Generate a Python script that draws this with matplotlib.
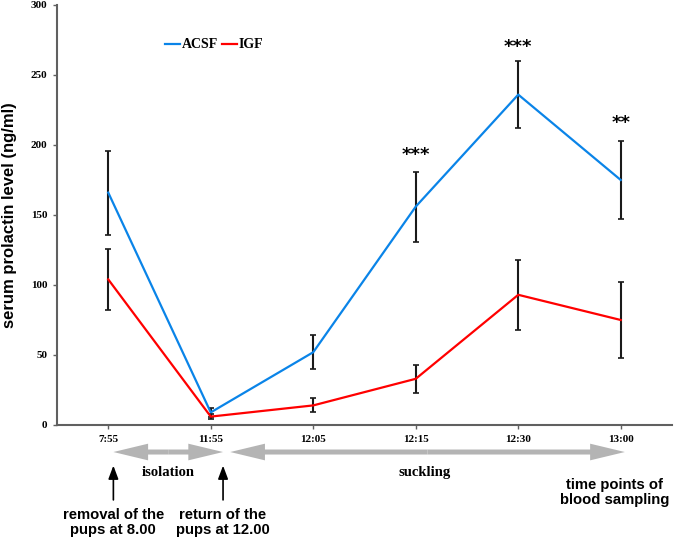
import numpy as np
import matplotlib
matplotlib.use('Agg')
import matplotlib.pyplot as plt

times = ['7:55', '11:55', '12:05', '12:15', '12:30', '13:00']
acsf = [166, 9, 52, 156, 236, 175]
acsf_err = [30, 3, 12, 25, 24, 28]
igf = [104, 6, 14, 33, 93, 75]
igf_err = [22, 2, 5, 10, 25, 27]
stars = ['', '', '', '***', '***', '**']
star_y = [0, 0, 0, 193, 270, 216]
yticks = [0, 50, 100, 150, 200, 250, 300]

fig = plt.figure(figsize=(6.75, 5.37), dpi=100)
ax = fig.add_axes([57/675, 112/537, 615/675, 420/537])
x = np.arange(len(times))

ax.plot(x, acsf, color='#0a84e8', lw=1.6, label='ACSF', zorder=3)
ax.plot(x, igf, color='#ff0000', lw=1.6, label='IGF', zorder=3)
ax.errorbar(x, acsf, yerr=acsf_err, fmt='none', ecolor='#1a1a1a', elinewidth=1.5, capsize=2, capthick=1.2, zorder=2)
ax.errorbar(x, igf, yerr=igf_err, fmt='none', ecolor='#1a1a1a', elinewidth=1.5, capsize=2, capthick=1.2, zorder=2)

for i, s in enumerate(stars):
    if s:
        ax.text(x[i], star_y[i], s, ha='center', va='center', fontsize=13, fontweight='bold', family='DejaVu Sans')

ax.set_xlim(-0.5, 5.5)
ax.set_ylim(0, 300)
ax.set_yticks(yticks)
ax.set_xticks(x)
ax.set_xticklabels(times)
for lab in ax.get_xticklabels() + ax.get_yticklabels():
    lab.set_family('Liberation Serif')
    lab.set_fontweight('bold')
    lab.set_fontsize(8)
ax.tick_params(length=3, color='#606060', width=1)
ax.tick_params(axis='x', pad=4)
ax.tick_params(axis='y', pad=4)
for sp in ['top', 'right']:
    ax.spines[sp].set_visible(False)
for sp in ['left', 'bottom']:
    ax.spines[sp].set_color('#606060')
    ax.spines[sp].set_linewidth(1.5)

ax.set_ylabel('serum prolactin level (ng/ml)', fontsize=12, fontweight='bold', family='Liberation Sans', labelpad=10)

leg = ax.legend(loc='upper left', bbox_to_anchor=(0.155, 0.95), ncol=2, frameon=False, handlelength=1.1,
                handletextpad=0.1, columnspacing=0.3, prop={'family': 'Liberation Serif', 'weight': 'bold', 'size': 10})

# timeline arrows below the axis, drawn from the middle outwards
grey = '#b4b4b4'
arrow_style = 'simple,head_length=25,head_width=12,tail_width=3.6'
for x0, x1 in [(0.05, 1.12), (1.19, 5.04)]:
    mid = (x0 + x1) / 2
    for tip in (x0, x1):
        ax.annotate('', xy=(tip, -19.3), xytext=(mid, -19.3), annotation_clip=False,
                    arrowprops=dict(arrowstyle=arrow_style, color=grey, lw=0, mutation_scale=1, shrinkA=0, shrinkB=0))

ax.text(0.58, -33.6, 'isolation', ha='center', va='center', fontsize=10.5, fontweight='bold', family='Liberation Serif')
ax.text(3.09, -33.6, 'suckling', ha='center', va='center', fontsize=10.5, fontweight='bold', family='Liberation Serif')
ax.text(4.94, -48.5, 'time points of\nblood sampling', ha='center', va='center', fontsize=10.7, fontweight='bold',
        family='Liberation Sans', linespacing=1.1)

for xp, txt in [(0.05, 'removal of the\npups at 8.00'), (1.12, 'return of the\npups at 12.00')]:
    ax.annotate('', xy=(xp, -29), xytext=(xp, -53.5), annotation_clip=False,
                arrowprops=dict(arrowstyle='-|>,head_length=0.8,head_width=0.3', color='black', lw=1.2, mutation_scale=10, shrinkA=0, shrinkB=0))
    ax.text(xp, -69.5, txt, ha='center', va='center', fontsize=10.7, fontweight='bold', family='Liberation Sans', linespacing=1.1)

plt.savefig('out.png', dpi=100, facecolor='white')
plt.close()
